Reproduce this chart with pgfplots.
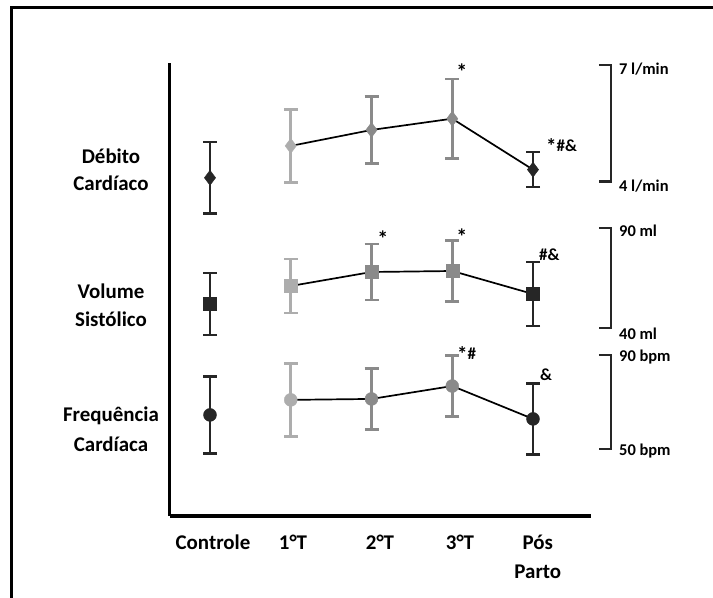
\documentclass[border=0pt]{standalone}
\usepackage{pgfplots}
\pgfplotsset{compat=1.18}
\usepackage{pgfplotstable}
\usepackage{fontspec}
\setmainfont{Carlito}
\definecolor{dk}{HTML}{262626}
\definecolor{md}{HTML}{8A8A8A}
\definecolor{lt}{HTML}{ADADAD}

% Debito cardiaco (l/min)
\pgfplotstableread{
x y e
0 4.10 0.92
1 4.92 0.94
2 5.33 0.86
3 5.62 1.02
4 4.31 0.45
}\debito
% Volume sistolico (ml)
\pgfplotstableread{
x y e
0 52.0 15.5
1 61.0 13.5
2 68.0 14.0
3 68.5 15.2
4 57.0 16.0
}\volume
% Frequencia cardiaca (bpm)
\pgfplotstableread{
x y e
0 64.5 16.4
1 70.9 15.5
2 71.3 13.0
3 76.8 13.0
4 62.8 15.1
}\freq

\pgfplotsset{
  dataaxis/.style={scale only axis, width=421.5bp, xmin=-0.5, xmax=4.72,
    axis lines=none, ticks=none, clip=false, anchor=south west},
  pt/.style={only marks, color=#1, mark options={fill=#1, draw=#1, solid},
    mark size=6.5bp,
    /pgfplots/error bars/y dir=both,
    /pgfplots/error bars/y explicit,
    /pgfplots/error bars/error bar style={line width=2.6bp, color=#1},
    /pgfplots/error bars/error mark options={rotate=90, mark size=7bp, line width=2.6bp, color=#1}},
  ln/.style={black, line width=1.7bp, no marks, skip coords between index={0}{1}},
}
\tikzset{
  ann/.style={font=\fontsize{17}{17}\selectfont\bfseries, inner sep=0pt},
  scl/.style={font=\fontsize{16.5}{16.5}\selectfont\bfseries, inner sep=0pt, anchor=base west},
}
\newcommand\bigast{{\fontsize{22}{22}\selectfont *}}
\newcommand\lowast{\raisebox{-2.5bp}{\fontsize{21}{21}\selectfont *}}
\newcommand\series[3]{% table, mark, mark size
  \addplot[ln] table[x=x,y=y]{#1};
  \addplot[pt=dk, mark=#2, mark size=#3, restrict x to domain=-0.1:0.1] table[x=x,y=y,y error=e]{#1};
  \addplot[pt=lt, mark=#2, mark size=#3, restrict x to domain=0.9:1.1] table[x=x,y=y,y error=e]{#1};
  \addplot[pt=md, mark=#2, mark size=#3, restrict x to domain=1.9:2.1] table[x=x,y=y,y error=e]{#1};
  \addplot[pt=md, mark=#2, mark size=#3, restrict x to domain=2.9:3.1] table[x=x,y=y,y error=e]{#1};
  \addplot[pt=dk, mark=#2, mark size=#3, restrict x to domain=3.9:4.1] table[x=x,y=y,y error=e]{#1};
}

\begin{document}
\begin{tikzpicture}
% outer frame (top and left edges)
\draw[line width=3.5bp, black] (11.5bp,0bp) -- (11.5bp,590.5bp) -- (713bp,590.5bp);

% frame axis with category labels
\begin{axis}[scale only axis, width=421.5bp, height=453bp, at={(169.625bp,82bp)}, anchor=south west,
  xmin=-0.5, xmax=4.72, ymin=82, ymax=535,
  axis x line=bottom, axis y line=left, axis line style={line width=3.5bp, -, black},
  xtick={0.037,1.028,2.105,3.096,4.06},
  xticklabels={Controle,1°T,2°T,3°T,Pós\\Parto},
  major tick length=0pt, ytick=\empty,
  xticklabel style={font=\fontsize{21}{29}\selectfont\bfseries, align=center, anchor=north, yshift=-15.5bp},
  clip=false]
\node[font=\fontsize{21}{27}\selectfont\bfseries, align=center] at (axis cs:-1.226,428) {Débito\\Cardíaco};
\node[font=\fontsize{21}{28}\selectfont\bfseries, align=center] at (axis cs:-1.226,293) {Volume\\Sistólico};
\node[font=\fontsize{21}{30}\selectfont\bfseries, align=center] at (axis cs:-1.226,169) {Frequência\\Cardíaca};
\end{axis}

% Debito cardiaco
\begin{axis}[dataaxis, height=116.7bp, at={(169.625bp,416.3bp)}, ymin=4, ymax=7]
\series{\debito}{diamond*}{7.5bp}
\draw[line width=2.6bp, dk] (axis cs:4.817,7) -- (axis cs:4.966,7) -- (axis cs:4.966,4) -- (axis cs:4.817,4);
\node[scl, yshift=-9.5bp] at (axis cs:5.065,7) {7 l/min};
\node[scl, yshift=-9.5bp] at (axis cs:5.065,4) {4 l/min};
\node[ann, anchor=base] at (axis cs:3.12,6.62) {\bigast};
\node[ann, anchor=base west] at (axis cs:4.161,4.78) {\lowast\#\&};
\end{axis}

% Volume sistolico
\begin{axis}[dataaxis, height=100bp, at={(169.625bp,270bp)}, ymin=40, ymax=90]
\series{\volume}{square*}{6.5bp}
\draw[line width=2.6bp, dk] (axis cs:4.817,90) -- (axis cs:4.966,90) -- (axis cs:4.966,40) -- (axis cs:4.817,40);
\node[scl, yshift=-8.5bp] at (axis cs:5.065,90) {90 ml};
\node[scl, yshift=-11.5bp] at (axis cs:5.065,40) {40 ml};
\node[ann, anchor=base] at (axis cs:2.14,80.5) {\bigast};
\node[ann, anchor=base] at (axis cs:3.12,81.5) {\bigast};
\node[ann, anchor=base west] at (axis cs:4.074,73.75) {\#\&};
\end{axis}

% Frequencia cardiaca
\begin{axis}[dataaxis, height=94bp, at={(169.625bp,149bp)}, ymin=50, ymax=90]
\series{\freq}{*}{6.5bp}
\draw[line width=2.6bp, dk] (axis cs:4.817,90) -- (axis cs:4.966,90) -- (axis cs:4.966,50) -- (axis cs:4.817,50);
\node[scl, yshift=-6.5bp] at (axis cs:5.065,90) {90 bpm};
\node[scl, yshift=-6.5bp] at (axis cs:5.065,50) {50 bpm};
\node[ann, anchor=base west] at (axis cs:3.059,88.2) {\lowast\#};
\node[ann, anchor=base west] at (axis cs:4.087,79.15) {\&};
\end{axis}

\pgfresetboundingbox
\path[use as bounding box] (0bp,0bp) rectangle (713bp,598bp);
\end{tikzpicture}
\end{document}
